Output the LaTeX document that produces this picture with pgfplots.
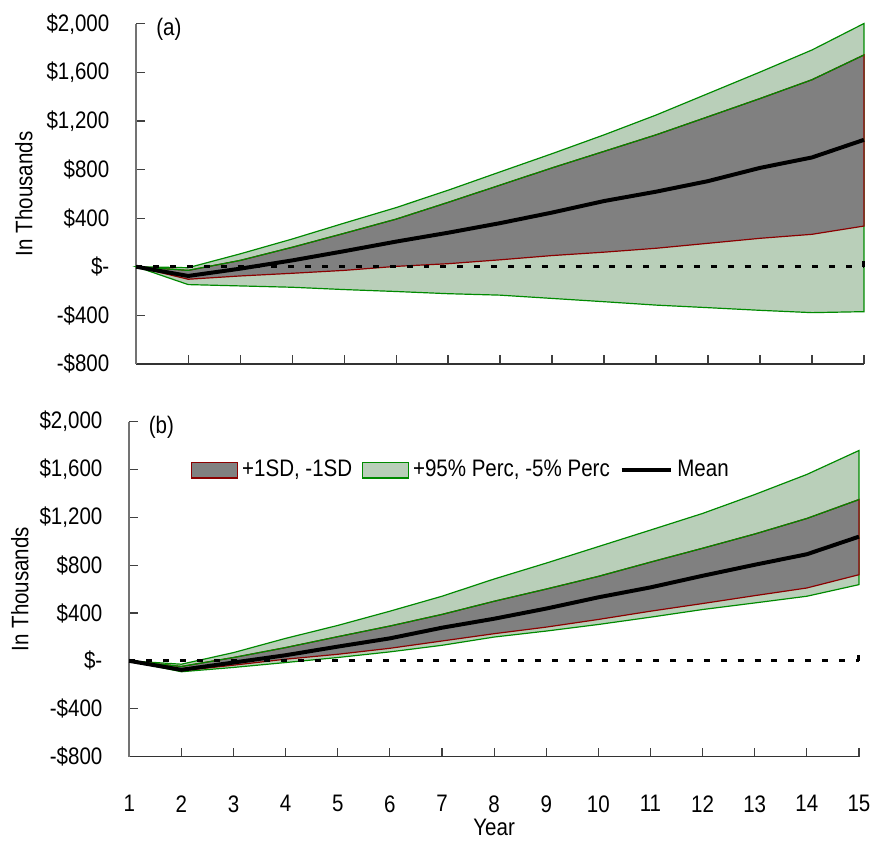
\documentclass[border=0pt]{standalone}
\usepackage{pgfplots}
\pgfplotsset{compat=1.18}
\usepackage{pgfplotstable}
\usepgfplotslibrary{fillbetween}
\usepackage{fontspec}
\setmainfont{Liberation Sans}[FakeStretch=0.86]

\definecolor{bandgray}{HTML}{808080}
\definecolor{bandgreen}{HTML}{B9CFB9}
\definecolor{linegreen}{HTML}{008A00}
\definecolor{linered}{HTML}{8B0000}

% panel (a)
\pgfplotstableread{
yr p95 sdU mean sdL p5
1 0 0 0 0 0
2 -8 -30 -76 -103 -147
3 106 52 -16 -76 -158
4 228 160 52 -54 -169
5 359 275 128 -30 -188
6 487 392 207 3 -204
7 630 530 280 25 -222
8 781 672 359 57 -234
9 931 814 446 92 -261
10 1086 950 541 120 -288
11 1249 1086 618 152 -316
12 1426 1235 705 193 -337
13 1603 1385 814 234 -359
14 1785 1540 900 267 -378
15 2003 1744 1045 335 -370
}\dataA

% panel (b)
\pgfplotstableread{
yr p95 sdU mean sdL p5
1 0 0 0 0 0
2 -28 -47 -75 -83 -91
3 69 28 -14 -36 -55
4 188 111 47 14 -14
5 296 202 119 55 28
6 415 291 188 105 75
7 540 388 277 166 130
8 684 498 352 227 199
9 817 600 437 282 249
10 955 706 531 346 304
11 1093 825 614 415 365
12 1232 941 711 479 429
13 1390 1060 803 545 484
14 1558 1190 891 609 540
15 1758 1348 1038 720 637
}\dataB

\pgfplotsset{
  panel/.style={
    scale only axis,
    xmin=1, xmax=15, ymin=-800, ymax=2000,
    axis x line*=bottom, axis y line*=left,
    clip=false,
    xtick={1,...,15},
    ytick={-800,-400,0,400,800,1200,1600,2000},
    yticklabels={-\$800,-\$400,\$-,\$400,\$800,{\$1,200},{\$1,600},{\$2,000}},
    tick align=inside,
    major tick length=4.5pt,
    every tick/.append style={black!75, line width=0.6pt},
    x axis line style={black!80, line width=0.7pt},
    y axis line style={black!55, line width=0.9pt},
    yticklabel style={xshift=-10pt},
    xticklabel style={yshift=-16pt},
    /pgf/number format/assume math mode=true,
    ylabel={In Thousands},
  },
}

\begin{document}
\begin{tikzpicture}[font=\fontsize{12}{14}\selectfont]

% ---------- panel (a)
\begin{axis}[panel,
  at={(68.5pt,-183pt)}, anchor=south west,
  width=366pt, height=171pt,
  xticklabels={},
  ylabel style={at={(axis description cs:0,0.5)}, anchor=center, yshift=56.5pt},
]
\addplot[draw=none, name path=p95a] table[x=yr, y=p95] {\dataA};
\addplot[draw=none, name path=p5a] table[x=yr, y=p5] {\dataA};
\addplot[draw=none, name path=sdUa] table[x=yr, y=sdU] {\dataA};
\addplot[draw=none, name path=sdLa] table[x=yr, y=sdL] {\dataA};
\addplot[fill=bandgreen, draw=linegreen, line width=0.6pt] fill between[of=p95a and p5a];
\addplot[fill=bandgray, draw=linered, line width=0.6pt] fill between[of=sdUa and sdLa];
\addplot[linegreen, line width=0.6pt] table[x=yr, y=sdU] {\dataA};
\addplot[black, line width=1.5pt, dash pattern=on 3pt off 5.5pt] coordinates {(1,0) (15,0)};
\addplot[black, line width=1.5pt] coordinates {(15,0) (15,45)};
\addplot[black, line width=2pt] table[x=yr, y=mean] {\dataA};
\node at (rel axis cs:0.045,0.985) {(a)};
\end{axis}

% ---------- panel (b)
\begin{axis}[panel,
  at={(65pt,-380.5pt)}, anchor=south west,
  width=367pt, height=168.5pt,
  xlabel={Year},
  xlabel style={at={(axis description cs:0.5,0)}, anchor=center, yshift=-35.5pt},
  ylabel style={at={(axis description cs:0,0.5)}, anchor=center, yshift=55pt},
  legend style={at={(rel axis cs:0.456,0.855)}, anchor=center, draw=none, fill=none,
    legend columns=3, /tikz/every even column/.append style={column sep=3pt},
    inner sep=0pt},
]
\addlegendimage{legend image code/.code={\draw[fill=bandgray, draw=linered, line width=0.6pt] (0pt,-4pt) rectangle (23pt,4pt);}}
\addlegendentry{+1SD, -1SD}
\addlegendimage{legend image code/.code={\draw[fill=bandgreen, draw=linegreen, line width=0.6pt] (0pt,-4pt) rectangle (23pt,4pt);}}
\addlegendentry{+95\% Perc, -5\% Perc}
\addlegendimage{legend image code/.code={\draw[black, line width=2pt] (0pt,0pt) -- (25pt,0pt);}}
\addlegendentry{Mean}
\addplot[draw=none, name path=p95b, forget plot] table[x=yr, y=p95] {\dataB};
\addplot[draw=none, name path=p5b, forget plot] table[x=yr, y=p5] {\dataB};
\addplot[draw=none, name path=sdUb, forget plot] table[x=yr, y=sdU] {\dataB};
\addplot[draw=none, name path=sdLb, forget plot] table[x=yr, y=sdL] {\dataB};
\addplot[fill=bandgreen, draw=linegreen, line width=0.6pt, forget plot] fill between[of=p95b and p5b];
\addplot[fill=bandgray, draw=linered, line width=0.6pt, forget plot] fill between[of=sdUb and sdLb];
\addplot[linegreen, line width=0.6pt, forget plot] table[x=yr, y=sdU] {\dataB};
\addplot[black, line width=1.5pt, dash pattern=on 3pt off 5.5pt, forget plot] coordinates {(1,0) (15,0)};
\addplot[black, line width=1.5pt, forget plot] coordinates {(15,0) (15,45)};
\addplot[black, line width=2pt, forget plot] table[x=yr, y=mean] {\dataB};
\node at (rel axis cs:0.044,0.982) {(b)};
\end{axis}
\path (0pt,0pt) rectangle (438.5pt,-418.5pt);
\end{tikzpicture}
\end{document}
